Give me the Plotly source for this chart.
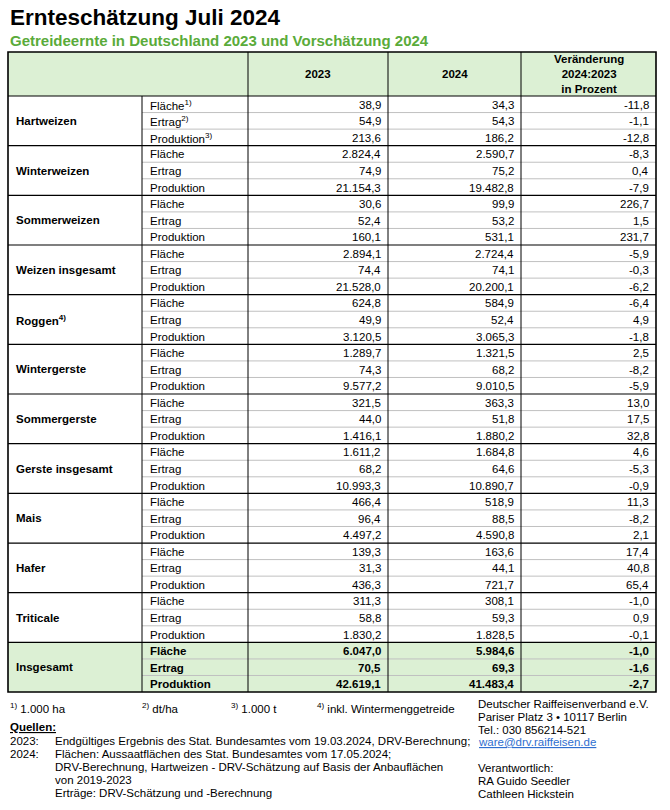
import plotly.graph_objects as go

# --- data ---
crops = ["Hartweizen", "Winterweizen", "Sommerweizen", "Weizen insgesamt",
         "Roggen<sup>4)</sup>", "Wintergerste", "Sommergerste", "Gerste insgesamt",
         "Mais", "Hafer", "Triticale", "Insgesamt"]
measures = ["Fläche", "Ertrag", "Produktion"]
hart_measures = ["Fläche<sup>1)</sup>", "Ertrag<sup>2)</sup>", "Produktion<sup>3)</sup>"]
col_headers = ["2023", "2024", "Veränderung<br>2024:2023<br>in Prozent"]

values_2023 = [38.9, 54.9, 213.6, 2824.4, 74.9, 21154.3, 30.6, 52.4, 160.1,
               2894.1, 74.4, 21528.0, 624.8, 49.9, 3120.5, 1289.7, 74.3, 9577.2,
               321.5, 44.0, 1416.1, 1611.2, 68.2, 10993.3, 466.4, 96.4, 4497.2,
               139.3, 31.3, 436.3, 311.3, 58.8, 1830.2, 6047.0, 70.5, 42619.1]
values_2024 = [34.3, 54.3, 186.2, 2590.7, 75.2, 19482.8, 99.9, 53.2, 531.1,
               2724.4, 74.1, 20200.1, 584.9, 52.4, 3065.3, 1321.5, 68.2, 9010.5,
               363.3, 51.8, 1880.2, 1684.8, 64.6, 10890.7, 518.9, 88.5, 4590.8,
               163.6, 44.1, 721.7, 308.1, 59.3, 1828.5, 5984.6, 69.3, 41483.4]
change_pct = [-11.8, -1.1, -12.8, -8.3, 0.4, -7.9, 226.7, 1.5, 231.7,
              -5.9, -0.3, -6.2, -6.4, 4.9, -1.8, 2.5, -8.2, -5.9,
              13.0, 17.5, 32.8, 4.6, -5.3, -0.9, 11.3, -8.2, 2.1,
              17.4, 40.8, 65.4, -1.0, 0.9, -0.1, -1.0, -1.6, -2.7]

footnotes = ["<sup>1)</sup> 1.000 ha", "<sup>2)</sup> dt/ha", "<sup>3)</sup> 1.000 t",
             "<sup>4)</sup> inkl. Wintermenggetreide"]
sources = [("2023:", "Endgültiges Ergebnis des Stat. Bundesamtes vom 19.03.2024, DRV-Berechnung;"),
           ("2024:", "Flächen: Aussaatflächen des Stat. Bundesamtes vom 17.05.2024;"),
           ("", "DRV-Berechnung, Hartweizen - DRV-Schätzung auf Basis der Anbauflächen"),
           ("", "von 2019-2023"),
           ("", "Erträge: DRV-Schätzung und -Berechnung")]
contact = ["Deutscher Raiffeisenverband e.V.", "Pariser Platz 3 • 10117 Berlin",
           "Tel.: 030 856214-521", "ware@drv.raiffeisen.de", "",
           "Verantwortlich:", "RA Guido Seedler", "Cathleen Hickstein"]


def de(v):
    return f"{v:,.1f}".replace(",", "X").replace(".", ",").replace("X", ".")


FONT = "Arial, Liberation Sans, sans-serif"
FS = 11.5
GREEN_FILL = "#dcf0d4"
GREEN_TEXT = "#5aab3a"
W, H = 670, 810

cols = [8, 142, 248, 388, 521, 656]
top, head_bot = 52, 96
grp_h = 49.67
sub_h = grp_h / 3
bottom = head_bot + grp_h * len(crops)

fig = go.Figure()
shapes = []
ann = []


def text(x, y, s, size=FS, anchor="left", bold=False, color="black"):
    ann.append(dict(x=x, y=y, text=f"<b>{s}</b>" if bold else s, showarrow=False,
                    xanchor=anchor, yanchor="middle", align=anchor,
                    font=dict(family=FONT, size=size, color=color)))


# fills
shapes.append(dict(type="rect", x0=cols[0], x1=cols[-1], y0=top, y1=head_bot,
                   fillcolor=GREEN_FILL, line_width=0, layer="below"))
shapes.append(dict(type="rect", x0=cols[0], x1=cols[-1], y0=bottom - grp_h, y1=bottom,
                   fillcolor=GREEN_FILL, line_width=0, layer="below"))

# sub-row gray lines
for g in range(len(crops)):
    for k in (1, 2):
        y = head_bot + g * grp_h + k * sub_h
        shapes.append(dict(type="line", x0=cols[1], x1=cols[-1], y0=y, y1=y,
                           line=dict(color="#c0c0c0", width=1)))
# group lines
for g in range(len(crops)):
    y = head_bot + g * grp_h
    shapes.append(dict(type="line", x0=cols[0], x1=cols[-1], y0=y, y1=y,
                       line=dict(color="black", width=1.2)))
# vertical lines
for i, x in enumerate(cols[1:-1], start=1):
    y0 = head_bot if i == 1 else top
    shapes.append(dict(type="line", x0=x, x1=x, y0=y0, y1=bottom,
                       line=dict(color="black", width=1)))
# outer frame
shapes.append(dict(type="rect", x0=cols[0], x1=cols[-1], y0=top, y1=bottom,
                   line=dict(color="black", width=1.6)))

# headers
for j, h in enumerate(col_headers):
    text((cols[j + 2] + cols[j + 3]) / 2, (top + head_bot) / 2, h,
         anchor="center", bold=True)

# body
for g, crop in enumerate(crops):
    gy = head_bot + g * grp_h
    total = g == len(crops) - 1
    text(cols[0] + 6, gy + grp_h / 2, crop, bold=True)
    labels = hart_measures if g == 0 else measures
    for k in range(3):
        idx = g * 3 + k
        cy = gy + (k + 0.5) * sub_h + 0.5
        text(cols[1] + 6, cy, labels[k], bold=total)
        text(cols[3] - 5, cy, de(values_2023[idx]), anchor="right", bold=total)
        text(cols[4] - 5, cy, de(values_2024[idx]), anchor="right", bold=total)
        text(cols[5] - 5, cy, de(change_pct[idx]), anchor="right", bold=total)

# titles
text(8, 17, "Ernteschätzung Juli 2024", size=22.5, bold=True)
text(8, 40, "Getreideernte in Deutschland 2023 und Vorschätzung 2024", size=15,
     bold=True, color=GREEN_TEXT)

# footnotes
for x, s in zip([8, 140, 229, 315], footnotes):
    text(x, 708, s)

text(8, 727, "<span style='text-decoration:underline'><b>Quellen:</b></span>")
for i, (yr, s) in enumerate(sources):
    y = 741 + i * 12.9
    if yr:
        text(8, y, yr)
    text(53, y, s)

for i, s in enumerate(contact):
    if not s:
        continue
    y = 704 + i * 12.8
    if "@" in s:
        text(476, y, f"<span style='text-decoration:underline'>{s}</span>", color="#2f6fd0")
    else:
        text(476, y, s)

fig.update_layout(
    width=W, height=H, margin=dict(l=0, r=0, t=0, b=0),
    paper_bgcolor="white", plot_bgcolor="white",
    xaxis=dict(range=[0, W], visible=False, fixedrange=True),
    yaxis=dict(range=[H, 0], visible=False, fixedrange=True),
    shapes=shapes, annotations=ann, showlegend=False,
)

# drop the default page margin so figure pixels line up with the window
fig.write_html("out.html", config={"displayModeBar": False},
               post_script="document.body.style.margin='0';")
